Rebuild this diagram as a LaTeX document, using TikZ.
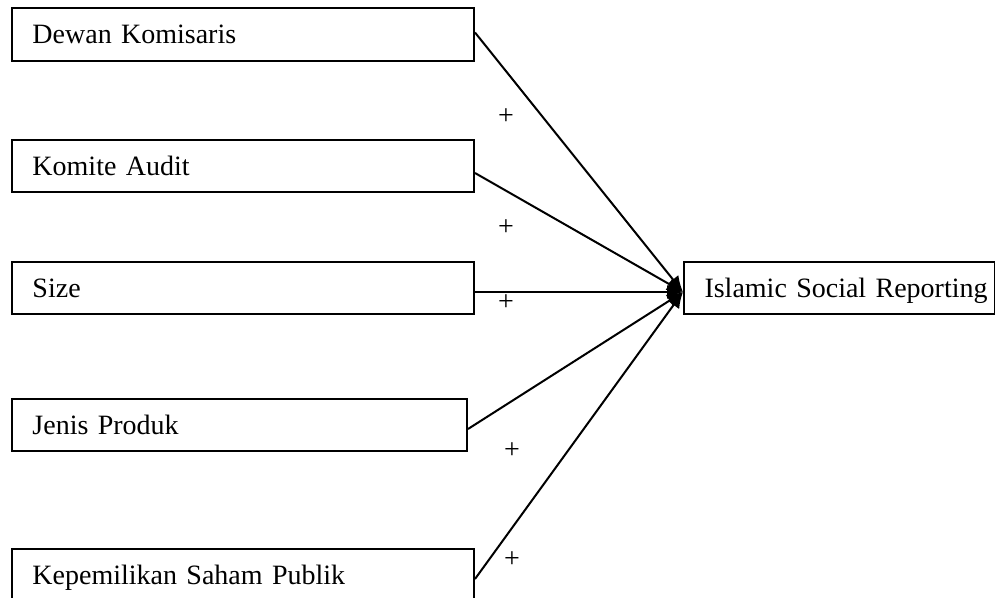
\documentclass[tikz,border=0pt]{standalone}
\usepackage{fontspec}
\setmainfont{Liberation Serif}
\usetikzlibrary{arrows.meta}
\begin{document}
\begin{tikzpicture}[x=0.5pt,y=-0.5pt,
  varbox/.style={draw, line width=1pt, anchor=north west, minimum height=26.5pt,
    inner xsep=10.25pt, inner ysep=0pt, text height=9.5pt, text depth=0pt,
    align=left, font=\fontsize{14pt}{16pt}\selectfont},
  plus/.style={inner sep=0pt, font=\fontsize{14pt}{16pt}\selectfont},
  conn/.style={line width=1pt, -{Latex[length=8pt,width=7pt]}}]
\fill[white] (0,0) rectangle (995,598);
\useasboundingbox (0,0) rectangle (995,598);
\clip (0,0) rectangle (995,598);
\node[varbox, text width=210.5pt] (b1) at (11,7) {Dewan Komisaris};
\node[varbox, text width=210.5pt, minimum height=26pt] (b2) at (11,139) {Komite Audit};
\node[varbox, text width=210.5pt, minimum height=26pt] (b3) at (11,261) {Size};
\node[varbox, text width=207pt, minimum height=26pt] (b4) at (11,398) {Jenis Produk};
\node[varbox, text width=210.5pt, minimum height=26pt] (b5) at (11,548) {Kepemilikan Saham Publik};
\node[varbox, text width=135pt, minimum height=26pt] (isr) at (683,261) {\mbox{Islamic Social Reporting}};
\coordinate (tip) at ([yshift=-2pt]isr.west);
\draw[conn] ([yshift=1pt]b1.east) -- (tip);
\draw[conn] ([yshift=-3.5pt]b2.east) -- (tip);
\draw[conn] ([yshift=-2pt]b3.east) -- (tip);
\draw[conn] ([yshift=-2pt]b4.east) -- (tip);
\draw[conn] ([yshift=-2pt]b5.east) -- (tip);
\node[plus] (p1) at (506,117) {+};
\node[plus] (p2) at (506,228) {+};
\node[plus] (p3) at (506,303) {+};
\node[plus] (p4) at (512,451) {+};
\node[plus] (p5) at (512,560) {+};
\end{tikzpicture}
\end{document}
